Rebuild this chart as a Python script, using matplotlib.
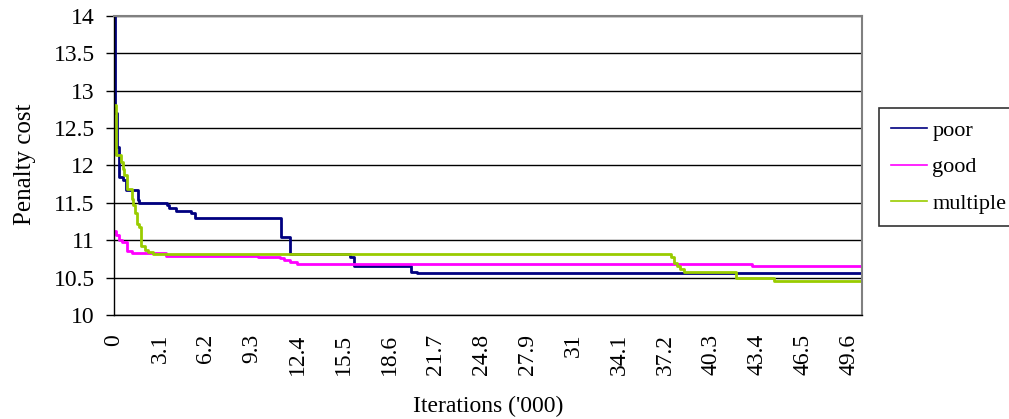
import matplotlib
matplotlib.use('Agg')
import matplotlib.pyplot as plt

plt.rcParams['font.family'] = 'Liberation Serif'

# Step breakpoints (x in '000 iterations)
poor_x = [0, 0.1, 0.2, 0.34, 0.6, 0.8, 1.6, 1.7, 3.56, 3.7, 4.2, 5.2, 5.5,
          11.3, 11.5, 11.85, 15.9, 16.2, 20.07, 20.45, 50.5]
poor_y = [14.0, 12.7, 12.25, 11.85, 11.8, 11.67, 11.54, 11.5, 11.47, 11.43, 11.39,
          11.36, 11.3, 11.05, 11.04, 10.82, 10.78, 10.66, 10.58, 10.56, 10.56]

good_x = [0, 0.13, 0.36, 0.52, 0.86, 1.2, 3.5, 9.75, 11.2, 11.5, 11.9, 12.35,
          43.1, 50.5]
good_y = [11.12, 11.07, 11.01, 10.97, 10.86, 10.83, 10.79, 10.77, 10.76, 10.74,
          10.71, 10.68, 10.65, 10.65]

multiple_x = [0, 0.13, 0.45, 0.6, 0.68, 0.86, 1.2, 1.3, 1.42, 1.53, 1.7, 1.82,
              2.1, 2.28, 2.66, 37.6, 37.8, 38.0, 38.2, 38.5, 42.0, 44.55, 50.5]
multiple_y = [12.81, 12.14, 12.05, 11.95, 11.87, 11.68, 11.55, 11.47, 11.36, 11.22,
              11.18, 10.92, 10.87, 10.84, 10.82, 10.78, 10.70, 10.65, 10.61, 10.58,
              10.50, 10.46, 10.46]

x_ticks = [0, 3.1, 6.2, 9.3, 12.4, 15.5, 18.6, 21.7, 24.8, 27.9, 31, 34.1,
           37.2, 40.3, 43.4, 46.5, 49.6]
x_labels = ['0', '3.1', '6.2', '9.3', '12.4', '15.5', '18.6', '21.7', '24.8',
            '27.9', '31', '34.1', '37.2', '40.3', '43.4', '46.5', '49.6']
y_ticks = [10, 10.5, 11, 11.5, 12, 12.5, 13, 13.5, 14]
y_labels = ['10', '10.5', '11', '11.5', '12', '12.5', '13', '13.5', '14']

fig = plt.figure(figsize=(10.09, 4.19), dpi=100)
ax = fig.add_axes([114 / 1009, 1 - 315 / 419, 748 / 1009, 299 / 419])

ax.plot(poor_x, poor_y, drawstyle='steps-post', color='#000080', lw=2, label='poor')
ax.plot(good_x, good_y, drawstyle='steps-post', color='#FF00FF', lw=2, label='good')
ax.plot(multiple_x, multiple_y, drawstyle='steps-post', color='#99CC00', lw=2,
        label='multiple')

ax.set_xlim(0, 50.5)
ax.set_ylim(10, 14)

ax.set_yticks(y_ticks)
ax.set_yticklabels(y_labels)
ax.set_xticks(x_ticks)
ax.set_xticklabels(x_labels, rotation=90, va='top', ha='center')

ax.tick_params(axis='y', direction='out', length=6, width=1, pad=8, labelsize=17)
ax.tick_params(axis='x', length=0, pad=13.5, labelsize=17)

# horizontal gridlines
ax.grid(axis='y', color='black', lw=1)
ax.set_axisbelow(True)

for side in ['top', 'right']:
    ax.spines[side].set_color('#808080')
    ax.spines[side].set_linewidth(1.5)
for side in ['left', 'bottom']:
    ax.spines[side].set_color('black')
    ax.spines[side].set_linewidth(1)

ax.set_xlabel("Iterations ('000)", fontsize=17)
ax.xaxis.set_label_coords(0.5, -0.27)
ax.set_ylabel('Penalty cost', fontsize=18)
ax.yaxis.set_label_coords(-0.104, 0.505)

leg = fig.legend(loc='upper left', bbox_to_anchor=(879 / 1009, 1 - 108 / 419),
                 borderaxespad=0, fontsize=16, frameon=True, fancybox=False,
                 handlelength=1.6, handletextpad=0.25, labelspacing=0.72,
                 borderpad=0.55)
leg.get_frame().set_edgecolor('black')
leg.get_frame().set_linewidth(1.2)
for line in leg.get_lines():
    line.set_linewidth(1.2)

fig.savefig('out.png', dpi=100)
